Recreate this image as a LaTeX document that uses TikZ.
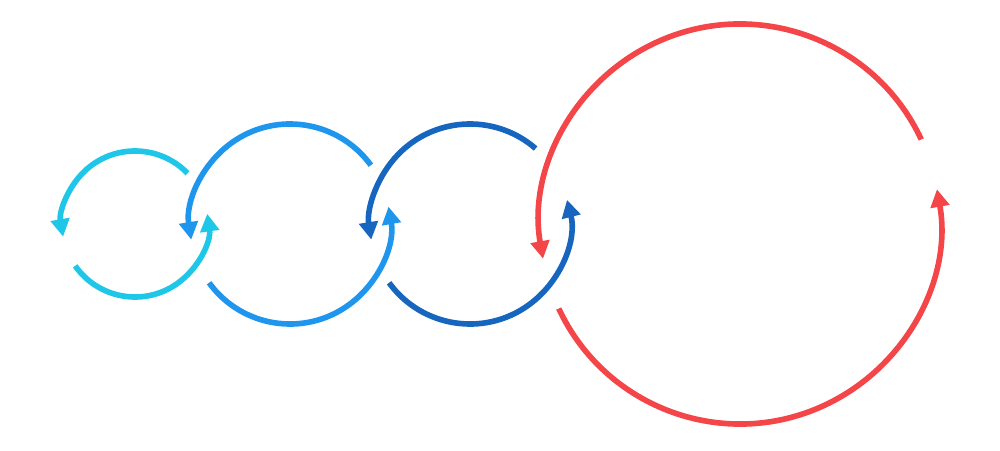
\documentclass[tikz,border=0pt]{standalone}
\usetikzlibrary{arrows.meta}
\definecolor{cyc}{HTML}{1EC6E8}
\definecolor{blc}{HTML}{1E96EE}
\definecolor{dbc}{HTML}{1666C0}
\definecolor{rdc}{HTML}{F44549}
\begin{document}
\begin{tikzpicture}[x=0.02cm,y=0.02cm,>={Triangle[length=10pt,width=10.5pt]},
  loop/.style={line width=3.2pt,->}]
  \useasboundingbox (0,0) rectangle (1000,450);
  % center x, center y, radius, upper start/end, lower start/end, colour
  \foreach \cx/\cy/\r/\ua/\ub/\la/\lb/\col in
    {135/226/73/44/190/215/368/cyc,
     290/226/100/36/189/216/370/blc,
     470/226/100/49/189/216/374/dbc,
     740/226/200/25/190/205/370/rdc}{
    \draw[loop,\col] ({\cx+\r*cos(\ua)},{\cy+\r*sin(\ua)}) arc[start angle=\ua,end angle=\ub,radius=\r];
    \draw[loop,\col] ({\cx+\r*cos(\la)},{\cy+\r*sin(\la)}) arc[start angle=\la,end angle=\lb,radius=\r];
  }
\end{tikzpicture}
\end{document}
